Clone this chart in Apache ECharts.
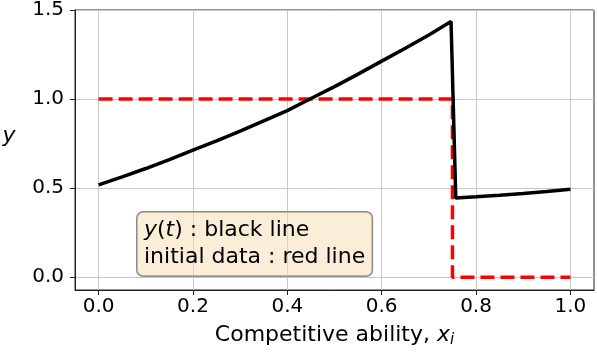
<!DOCTYPE html>
<html>
<head>
<meta charset="utf-8">
<script src="https://cdn.jsdelivr.net/npm/echarts@6/dist/echarts.min.js"></script>
<style>html,body{margin:0;padding:0;background:#fff}#c{width:597px;height:353px}</style>
</head>
<body>
<div id="c"></div>
<script>
// Data
var blackX = [0, 0.05, 0.1, 0.15, 0.2, 0.25, 0.3, 0.35, 0.4, 0.45, 0.5, 0.55, 0.6, 0.65, 0.7, 0.747, 0.757, 0.8, 0.85, 0.9, 0.95, 1.0];
var blackY = [0.518, 0.563, 0.610, 0.660, 0.713, 0.765, 0.820, 0.878, 0.935, 1.003, 1.070, 1.140, 1.213, 1.285, 1.360, 1.435, 0.444, 0.451, 0.460, 0.470, 0.481, 0.493];
var redX = [0, 0.75, 0.75, 1.0];
var redY = [1, 1, 0, 0];
var xTicks = [0, 0.2, 0.4, 0.6, 0.8, 1.0];
var yTicks = [0, 0.5, 1.0, 1.5];

function pairs(xs, ys) { return xs.map(function (x, i) { return [x, ys[i]]; }); }

var FONT = 'DejaVu Sans';
var chart = echarts.init(document.getElementById('c'), null, { renderer: 'canvas' });
chart.setOption({
  animation: false,
  backgroundColor: '#fff',
  grid: { left: 75, right: 3, top: 10, bottom: 60, show: true, borderColor: '#222', borderWidth: 1, containLabel: false },
  xAxis: {
    type: 'value', min: -0.05, max: 1.05,
    name: 'Competitive ability, {i|x}{s|i}',
    nameLocation: 'middle', nameGap: 32,
    nameTextStyle: {
      fontFamily: FONT, fontSize: 22, color: '#000', lineHeight: 26,
      rich: {
        i: { fontFamily: FONT, fontSize: 22, fontStyle: 'italic', color: '#000', lineHeight: 26 },
        s: { fontFamily: FONT, fontSize: 15, fontStyle: 'italic', color: '#000', lineHeight: 12, verticalAlign: 'bottom' }
      }
    },
    axisLine: { show: true, onZero: false, lineStyle: { color: '#222', width: 1 } },
    axisTick: { show: true, length: 5, lineStyle: { color: '#222' }, customValues: xTicks },
    axisLabel: { customValues: xTicks, margin: 7, fontFamily: FONT, fontSize: 20, color: '#000',
      formatter: function (v) { return v.toFixed(1); } },
    splitLine: { show: true, lineStyle: { color: '#c8c8c8', width: 1 } }
  },
  yAxis: {
    type: 'value', min: -0.072, max: 1.5,
    axisLine: { show: true, onZero: false, lineStyle: { color: '#222', width: 1 } },
    axisTick: { show: true, length: 5, lineStyle: { color: '#222' }, customValues: yTicks },
    axisLabel: { customValues: yTicks, margin: 11, fontFamily: FONT, fontSize: 20, color: '#000',
      formatter: function (v) { return v.toFixed(1); } },
    splitLine: { show: true, lineStyle: { color: '#c8c8c8', width: 1 } }
  },
  series: [
    {
      type: 'line', data: pairs(redX, redY), showSymbol: false, symbol: 'none',
      lineStyle: { color: '#ff0000', width: 3.5, type: [14, 6] }, z: 3
    },
    {
      type: 'line', data: pairs(blackX, blackY), showSymbol: false, symbol: 'none',
      lineStyle: { color: '#000', width: 3.5 }, z: 4
    }
  ],
  graphic: [{
    type: 'text', left: 136, top: 211, z: 100,
    style: {
      text: '{i|y}({i|t}) : black line\ninitial data : red line',
      fontFamily: FONT, fontSize: 22, fill: '#000', lineHeight: 27,
      rich: { i: { fontFamily: FONT, fontSize: 22, fontStyle: 'italic', fill: '#000', lineHeight: 27 } },
      backgroundColor: 'rgba(245,222,179,0.5)',
      borderColor: '#8c8c8c', borderWidth: 1, borderRadius: 6,
      padding: [5, 7, 5, 7]
    }
  }, {
    type: 'text', x: 9, y: 136, z: 100,
    style: {
      text: 'y', fontFamily: FONT, fontSize: 22, fontStyle: 'italic', fill: '#000',
      align: 'center', verticalAlign: 'middle'
    }
  }]
});
</script>
</body>
</html>
